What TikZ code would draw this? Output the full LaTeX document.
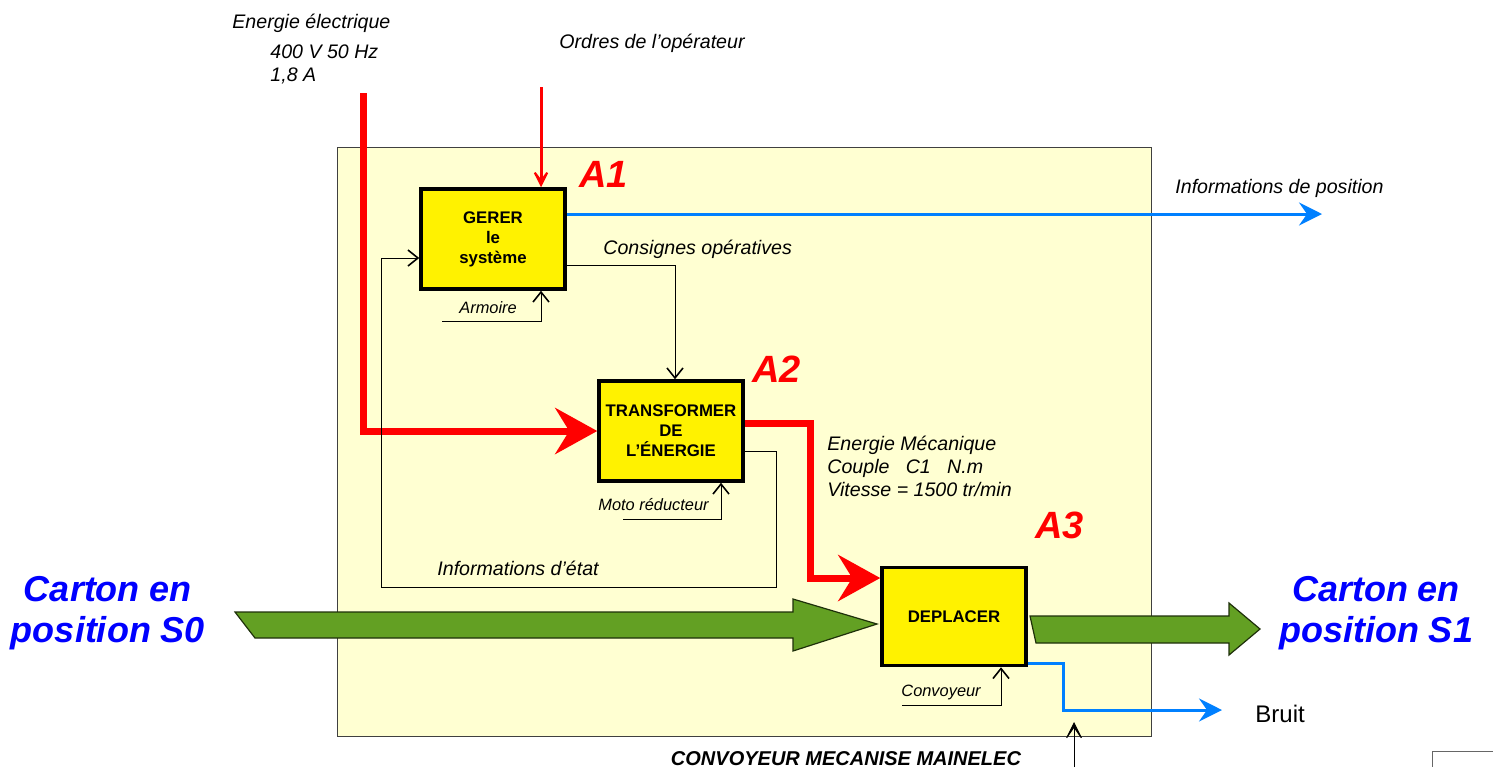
\documentclass[tikz,border=0pt]{standalone}
\usepackage{fontspec}
\setmainfont{Liberation Sans}
\usetikzlibrary{arrows.meta}

\definecolor{fond}{RGB}{255,255,210}
\definecolor{vert}{RGB}{99,160,35}
\definecolor{bleu}{RGB}{0,128,255}

\tikzset{
  bloc/.style={draw, line width=1.75pt, fill=yellow, minimum width=72pt, minimum height=50pt, align=center, inner sep=0pt, font=\fontsize{8.4}{10}\selectfont\bfseries},
  lbl/.style={font=\fontsize{9.8}{11.5}\selectfont\itshape, anchor=base west, align=left, inner sep=0pt},
  petit/.style={font=\fontsize{8.2}{10}\selectfont\itshape, anchor=base west, inner sep=0pt},
  numA/.style={text=red, font=\fontsize{19}{19}\selectfont\bfseries\itshape, anchor=base west, inner sep=0pt},
  carton/.style={text=blue, font=\fontsize{18}{20.5}\selectfont\bfseries\itshape, align=center, inner sep=0pt},
  energie/.style={draw=red, line width=3.5pt, -{Stealth[length=21pt,width=23pt,inset=7pt]}},
  ordre/.style={draw=red, line width=1.5pt, -{Stealth[length=12pt,width=12pt,inset=8pt]}},
  info/.style={draw=bleu, line width=1.5pt, -{Stealth[length=11.5pt,width=11.5pt,inset=4pt]}},
  fin/.style={draw, line width=0.5pt, -{Straight Barb[length=5pt,width=8pt,line width=0.8pt]}},
  flux/.style={fill=vert, draw=black!70!vert, line width=0.6pt}
}

\begin{document}
\begin{tikzpicture}[x=0.5pt,y=-0.5pt]
\useasboundingbox (0,0) rectangle (1493,767);

% cadre du systeme
\draw[fill=fond, draw=black!75] (337,147) rectangle (1151,736);
\node[font=\fontsize{10}{12}\selectfont\bfseries\itshape, anchor=base, inner sep=0pt] (titre) at (846,765) {CONVOYEUR MECANISE MAINELEC};
\draw[black!60] (1493,751) -| (1432,767);

% matiere d'oeuvre
\filldraw[flux] (235,612) -- (793,612) -- (793,599) -- (877,624) -- (793,651) -- (793,638) -- (255,638) -- cycle;
\filldraw[flux] (1030,616) -- (1229,616) -- (1229,603) -- (1260,629) -- (1229,655) -- (1229,643) -- (1036,643) -- cycle;
\node[carton] (s0) at (108,613) {Carton en\\position S0};
\node[carton] (s1) at (1376,613) {Carton en\\position S1};

% blocs
\node[bloc] (gerer) at (493,239) {GERER\\le\\système};
\node[bloc] (transformer) at (671,431) {TRANSFORMER\\DE\\L'ÉNERGIE};
\node[bloc, minimum height=49pt] (deplacer) at (954,616.5) {DEPLACER};
\node[numA] (a1) at (579,187) {A1};
\node[numA] (a2) at (752,382) {A2};
\node[numA] (a3) at (1035,538) {A3};

% entrees
\coordinate (alim) at (363,93);
\coordinate (ordres) at (541,87);
\draw[energie] (alim) |- (transformer);
\draw[ordre] (ordres) -- (ordres |- gerer.north);
\node[lbl] (elec) at (232,28) {Energie électrique};
\node[lbl] (tension) at (270,58) {400 V 50 Hz};
\node[lbl] (courant) at (270,81) {1,8 A};
\node[lbl] (op) at (559,48) {Ordres de l'opérateur};

% sorties
\coordinate (posinfo) at (1322,214);
\draw[info] (gerer.east |- posinfo) -- (posinfo);
\node[lbl] (pos) at (1175,193) {Informations de position};
\coordinate (bru) at (1063,663);
\coordinate (bruit) at (1222,710);
\draw[info] (deplacer.east |- bru) -- (bru) |- (bruit);
\node[font=\fontsize{12}{14}\selectfont, anchor=base west, inner sep=0pt] (bruitlbl) at (1255,722) {Bruit};

% liaisons internes
\coordinate (cons) at (675,265);
\draw[fin] (gerer.east |- cons) -- (cons) -- (cons |- transformer.north);
\node[lbl] (consignes) at (603,254) {Consignes opératives};
\coordinate (etat1) at (776,451);
\coordinate (etat2) at (381,587);
\draw[fin] (transformer.east |- etat1) -- (etat1) |- (etat2) |- ([yshift=-9.5pt]gerer.west);
\node[lbl] (etat) at (437,575) {Informations d'état};
\coordinate (meca) at (810,423);
\draw[energie] (transformer.east |- meca) -- (meca) |- ([yshift=19.25pt]deplacer.west);
\node[lbl] (mecalbl) at (827,496) {Energie Mécanique\\Couple\ \ \ C1\ \ \ N.m\\Vitesse = 1500 tr/min};

% supports
\coordinate (arm) at (442,321);
\draw[fin] (arm) -| ([xshift=24pt]gerer.south);
\node[petit] (armoire) at (459,313) {Armoire};
\coordinate (moto) at (623,519);
\draw[fin] (moto) -| ([xshift=25pt]transformer.south);
\node[petit] (motolbl) at (598,510) {Moto réducteur};
\coordinate (conv) at (902,705);
\draw[fin] (conv) -| ([xshift=23.5pt]deplacer.south);
\node[petit] (convlbl) at (901,696) {Convoyeur};
\coordinate (socle) at (1074,767);
\coordinate (socleh) at (1074,722);
\draw[line width=0.5pt, -{Stealth[length=11pt,width=11pt,inset=8pt]}] (socle) -- (socleh);
\end{tikzpicture}
\end{document}
